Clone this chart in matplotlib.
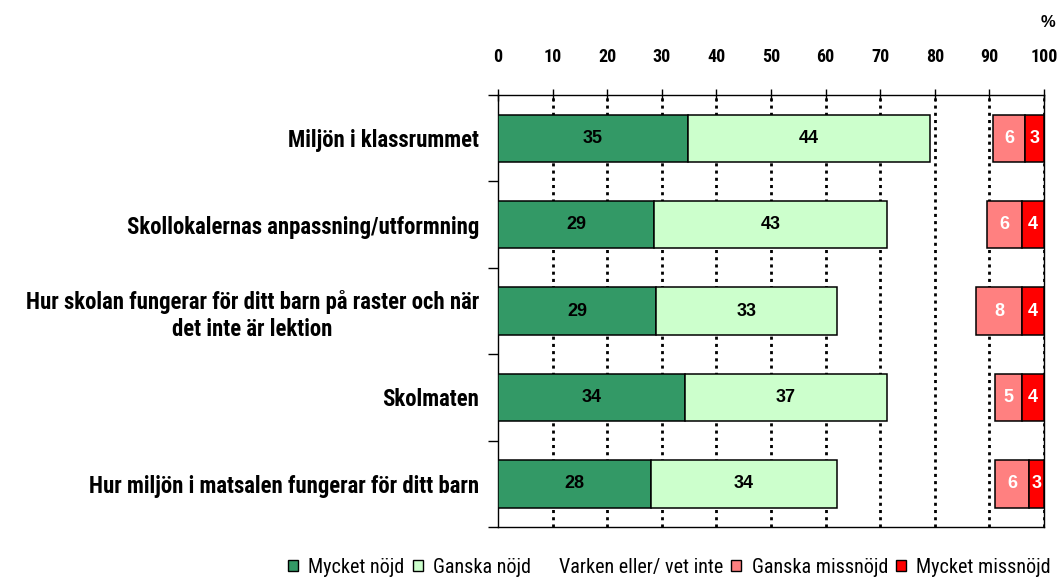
import matplotlib.pyplot as plt
import numpy as np
from matplotlib.patches import Patch
from matplotlib.ticker import FixedLocator, MultipleLocator

plt.rcParams['font.family'] = ['Roboto Condensed', 'DejaVu Sans']

categories = [
    'Miljön i klassrummet',
    'Skollokalernas anpassning/utformning',
    'Hur skolan fungerar för ditt barn på raster och när\ndet inte är lektion',
    'Skolmaten',
    'Hur miljön i matsalen fungerar för ditt barn',
]
mycket_nojd = [34.8, 28.6, 28.9, 34.2, 28.0]
ganska_nojd = [44.3, 42.6, 33.2, 37.0, 34.1]
ganska_missnojd = [5.9, 6.4, 8.4, 4.9, 6.1]
mycket_missnojd = [3.4, 4.1, 4.0, 4.0, 2.8]

legend_labels = ['Mycket nöjd', 'Ganska nöjd', 'Varken eller/ vet inte',
                 'Ganska missnöjd', 'Mycket missnöjd']
colors = ['#339966', '#CCFFCC', 'white', '#FF8080', '#FF0000']

fig = plt.figure(figsize=(10.61, 5.8), dpi=100)
ax = fig.add_axes([0.4694, 0.0914, 0.5146, 0.7446])

y = np.arange(len(categories))
h = 0.55
mn = np.array(mycket_nojd)
gn = np.array(ganska_nojd)
gm = np.array(ganska_missnojd)
mm = np.array(mycket_missnojd)

# varken eller is left blank, the missnöjd parts are stacked from the right end
segments = [
    (np.zeros_like(mn), mn, colors[0], 'black'),
    (mn, gn, colors[1], 'black'),
    (100 - mm - gm, gm, colors[3], 'white'),
    (100 - mm, mm, colors[4], 'white'),
]
for left, width, col, tcol in segments:
    ax.barh(y, width, left=left, height=h, color=col, edgecolor='black',
            linewidth=1.1, zorder=3)
    for yi, l, w in zip(y, left, width):
        ax.text(l + w / 2, yi, f'{w:.0f}', ha='center', va='center',
                color=tcol, fontsize=13, fontweight='bold',
                family=['Liberation Sans', 'DejaVu Sans'], zorder=4)

for gx in range(10, 101, 10):
    ax.axvline(gx, color='black', linestyle=(0, (1.1, 1.5)), linewidth=2, zorder=1)

ax.set_xlim(0, 100)
ax.set_ylim(len(categories) - 0.5, -0.5)
ax.xaxis.set_major_locator(MultipleLocator(10))
ax.xaxis.tick_top()
ax.tick_params(axis='x', direction='inout', length=8, width=1, pad=17,
               labelsize=13)
for lab in ax.get_xticklabels():
    lab.set_fontweight('bold')

ax.set_yticks(y)
ax.set_yticklabels(categories, fontsize=16.4, fontweight='bold')
for lab in ax.get_yticklabels():
    lab.set_multialignment('center')
ax.tick_params(axis='y', which='major', length=0, pad=13.5)
ax.yaxis.set_minor_locator(FixedLocator(np.arange(-0.5, len(categories), 1.0)))
ax.tick_params(axis='y', which='minor', direction='out', length=7, width=1)

for s in ax.spines.values():
    s.set_linewidth(1)
    s.set_color('black')

fig.text(0.988, 0.962, '%', ha='center', va='center', fontsize=12, fontweight='bold',
         family=['Liberation Sans', 'DejaVu Sans'])

handles = [Patch(facecolor=c, edgecolor='black' if c != 'white' else 'white', linewidth=1)
           for c in colors]
fig.legend(handles, legend_labels, loc='center', bbox_to_anchor=(0.631, 0.022),
           ncol=5, frameon=False, fontsize=14.5, handlelength=0.5, handleheight=0.5,
           handletextpad=0.5, columnspacing=0.4)

fig.savefig('out.png', dpi=100)
